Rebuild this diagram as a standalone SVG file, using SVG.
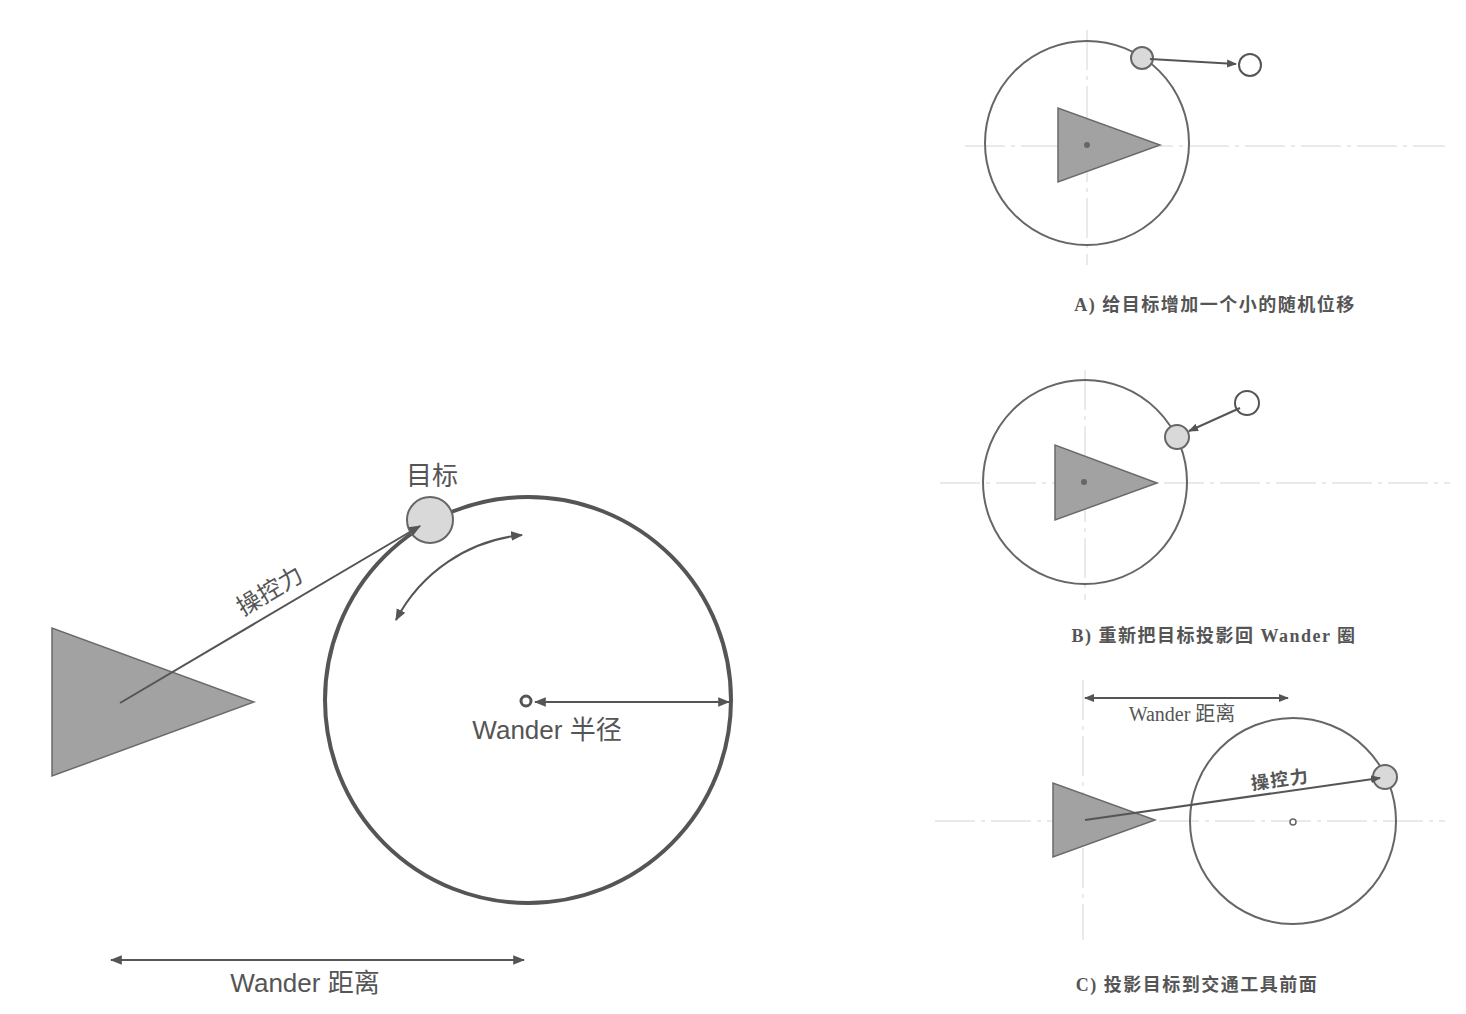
<svg xmlns="http://www.w3.org/2000/svg" width="1466" height="1014" viewBox="0 0 1466 1014">
<defs>
<style>
.tri{fill:#a2a2a2;stroke:#6a6a6a;stroke-width:1.5}
.big{fill:none;stroke:#555;stroke-width:4}
.ln{fill:none;stroke:#555;stroke-width:2}
.thin{fill:none;stroke:#666;stroke-width:2}
.cross{fill:none;stroke:#d4d4d4;stroke-width:1;stroke-dasharray:40 6 4 6}
.tgt{fill:#d9d9d9;stroke:#666;stroke-width:2}
.hol{fill:#fff;stroke:#555;stroke-width:2}
.sans{font-family:"Liberation Sans","Noto Sans CJK SC",sans-serif;fill:#555}
.ser{font-family:"Liberation Serif","Noto Sans CJK SC",serif;fill:#555}
.cap{font-family:"Liberation Serif","Noto Sans CJK SC",serif;fill:#555;font-size:18px;font-weight:bold;letter-spacing:1.5px}
</style>
<marker id="ah" viewBox="0 0 10 10" refX="9" refY="5" markerWidth="5" markerHeight="5" orient="auto-start-reverse">
<path d="M0,1 L10,5 L0,9 z" fill="#555"/>
</marker>
<marker id="ahs" viewBox="0 0 10 10" refX="9" refY="5" markerWidth="6" markerHeight="6" orient="auto-start-reverse">
<path d="M0,1 L10,5 L0,9 z" fill="#555"/>
</marker>
</defs>
<rect width="1466" height="1014" fill="#fff"/>

<!-- Main diagram -->
<g id="vehicle"><polygon class="tri" points="52,628 52,776 254,702"/></g>
<g id="wander-circle"><circle class="big" cx="528" cy="700" r="203"/></g>
<g id="target"><circle class="tgt" cx="430" cy="520" r="23" stroke-width="4"/>
<text class="sans" x="432" y="485" font-size="26" text-anchor="middle">目标</text></g>
<g id="center"><circle cx="526" cy="701" r="5" fill="#fff" stroke="#555" stroke-width="3"/></g>
<g id="labels-main">
<text class="sans" x="547" y="739" font-size="26" text-anchor="middle">Wander 半径</text>
<text class="sans" x="305" y="992" font-size="26" text-anchor="middle">Wander 距离</text>
<text class="sans" x="274" y="598" font-size="24" text-anchor="middle" transform="rotate(-30.7 274 598)">操控力</text>
</g>

<!-- Panel A -->
<g id="panelA">
<line class="cross" x1="965" y1="146" x2="1445" y2="146"/>
<line class="cross" x1="1087" y1="30" x2="1087" y2="265"/>
<circle class="thin" cx="1087" cy="143" r="102"/>
<polygon class="tri" points="1058,108 1058,182 1160,145"/>
<circle cx="1087" cy="145" r="3" fill="#666"/>
<circle class="tgt" cx="1142" cy="58" r="11"/>
<circle class="hol" cx="1250" cy="65" r="11"/>
<text class="cap" x="1215" y="311" text-anchor="middle">A) 给目标增加一个小的随机位移</text>
</g>

<!-- Panel B -->
<g id="panelB">
<line class="cross" x1="940" y1="483" x2="1450" y2="483"/>
<line class="cross" x1="1085" y1="370" x2="1085" y2="600"/>
<circle class="thin" cx="1085" cy="482" r="102"/>
<polygon class="tri" points="1055,445 1055,520 1157,483"/>
<circle cx="1084" cy="482" r="3" fill="#666"/>
<circle class="tgt" cx="1177" cy="437" r="12"/>
<circle class="hol" cx="1247" cy="403" r="12"/>
<text class="cap" x="1214" y="642" text-anchor="middle">B) 重新把目标投影回 Wander 圈</text>
</g>

<!-- Panel C -->
<g id="panelC">
<line class="cross" x1="935" y1="821" x2="1445" y2="821"/>
<line class="cross" x1="1083" y1="680" x2="1083" y2="940"/>
<circle class="thin" cx="1293" cy="821" r="103"/>
<polygon class="tri" points="1053,783 1053,857 1155,820"/>
<circle cx="1293" cy="822" r="3" fill="#fff" stroke="#666" stroke-width="1.5"/>
<circle class="tgt" cx="1385" cy="777" r="12"/>
<text class="ser" x="1182" y="721" font-size="20" text-anchor="middle">Wander 距离</text>
<text class="cap" x="1281" y="786" font-size="20" letter-spacing="0" text-anchor="middle" transform="rotate(-8 1281 786)">操控力</text>
<text class="cap" x="1197" y="991" text-anchor="middle">C) 投影目标到交通工具前面</text>
</g>

<!-- Connectors -->
<g id="connectors">
<line class="ln" x1="120" y1="703" x2="420" y2="526" marker-end="url(#ahs)"/>
<path class="ln" d="M396,620 A160,160 0 0 1 522,535" marker-start="url(#ahs)" marker-end="url(#ahs)"/>
<line class="ln" x1="535" y1="702" x2="729" y2="702" marker-start="url(#ahs)" marker-end="url(#ahs)"/>
<line class="ln" x1="111" y1="960" x2="524" y2="960" marker-start="url(#ahs)" marker-end="url(#ahs)"/>
<line class="ln" x1="1150" y1="59" x2="1236" y2="64" marker-end="url(#ah)"/>
<line class="ln" x1="1240" y1="408" x2="1189" y2="431" marker-end="url(#ah)"/>
<line class="ln" x1="1085" y1="698" x2="1288" y2="698" marker-start="url(#ah)" marker-end="url(#ah)"/>
<line class="ln" x1="1085" y1="820" x2="1380" y2="778" marker-end="url(#ah)"/>
</g>
</svg>
